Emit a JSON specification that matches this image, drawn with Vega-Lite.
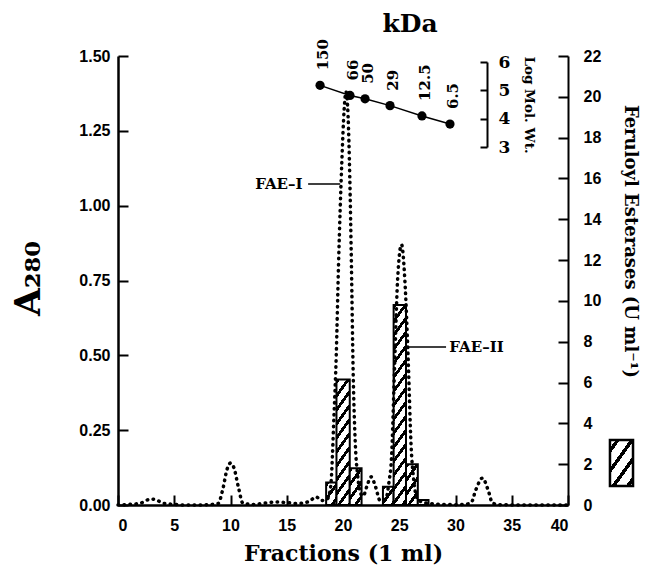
{
 "$schema": "https://vega.github.io/schema/vega-lite/v6.json",
 "width": 450, "height": 449,
 "autosize": {"type": "none"},
 "padding": {"left": 118, "top": 56, "right": 78, "bottom": 68},
 "background": "white",
 "view": {"stroke": null},
 "config": {"axis": {"grid": false, "domainColor": "black", "tickColor": "black", "labelColor": "black", "titleColor": "black", "labelFont": "Liberation Sans", "labelFontWeight": "bold", "labelFontSize": 16, "titleFont": "DejaVu Serif", "titleFontWeight": "bold", "domainWidth": 2.5, "tickWidth": 2}},
 "title": {"text": "kDa", "frame": "group", "anchor": "middle", "dx": 67, "offset": 2, "font": "DejaVu Serif", "fontSize": 25, "fontWeight": "bold", "color": "black"},
 "datasets": {
  "a280": [
   {"x":0,"a":0},{"x":1,"a":0.002},{"x":2,"a":0.006},{"x":2.5,"a":0.015},{"x":2.9,"a":0.02},{"x":3.4,"a":0.017},{"x":4,"a":0.006},{"x":5,"a":0.002},{"x":6,"a":0},{"x":7,"a":0},{"x":8,"a":0.001},{"x":8.9,"a":0.005},{"x":9.3,"a":0.05},{"x":9.7,"a":0.12},{"x":10.0,"a":0.14},{"x":10.3,"a":0.125},{"x":10.7,"a":0.06},{"x":11.1,"a":0.006},{"x":12,"a":0.002},{"x":13,"a":0.006},{"x":14,"a":0.01},{"x":15,"a":0.008},{"x":16,"a":0.005},{"x":17,"a":0.012},{"x":17.6,"a":0.027},{"x":18.1,"a":0.015},{"x":18.6,"a":0.02},{"x":18.9,"a":0.06},{"x":19.2,"a":0.3},{"x":19.4,"a":0.5},{"x":19.6,"a":0.8},{"x":19.9,"a":1.15},{"x":20.1,"a":1.32},{"x":20.27,"a":1.38},{"x":20.45,"a":1.3},{"x":20.6,"a":1.1},{"x":20.75,"a":0.8},{"x":20.9,"a":0.45},{"x":21.1,"a":0.2},{"x":21.3,"a":0.1},{"x":21.55,"a":0.04},{"x":21.8,"a":0.03},{"x":22.1,"a":0.06},{"x":22.5,"a":0.094},{"x":22.9,"a":0.06},{"x":23.3,"a":0.015},{"x":23.8,"a":0.02},{"x":24.1,"a":0.08},{"x":24.3,"a":0.15},{"x":24.6,"a":0.48},{"x":24.85,"a":0.75},{"x":25.2,"a":0.87},{"x":25.5,"a":0.75},{"x":25.8,"a":0.48},{"x":26.05,"a":0.2},{"x":26.3,"a":0.08},{"x":26.6,"a":0.02},{"x":27.2,"a":0.008},{"x":28,"a":0.004},{"x":29,"a":0.002},{"x":30,"a":0.001},{"x":31,"a":0.003},{"x":31.4,"a":0.008},{"x":31.8,"a":0.05},{"x":32.4,"a":0.09},{"x":32.9,"a":0.05},{"x":33.3,"a":0.006},{"x":34,"a":0.001},{"x":36,"a":0},{"x":38,"a":0},{"x":40,"a":0}
  ],
  "fae": [
   {"frac":19,"from":18.5,"to":19.42,"u":1.1},
   {"frac":20,"from":19.42,"to":20.6,"u":6.15},
   {"frac":21,"from":20.6,"to":21.65,"u":1.8},
   {"frac":24,"from":23.55,"to":24.5,"u":0.9},
   {"frac":25,"from":24.5,"to":25.6,"u":9.8},
   {"frac":26,"from":25.6,"to":26.65,"u":2.0},
   {"frac":27,"from":26.65,"to":27.6,"u":0.25}
  ],
  "mw": [
   {"x":17.96,"logmw":5.176,"kda":"150"},
   {"x":20.62,"logmw":4.82,"kda":"66"},
   {"x":21.96,"logmw":4.70,"kda":"50"},
   {"x":24.18,"logmw":4.46,"kda":"29"},
   {"x":27.02,"logmw":4.097,"kda":"12.5"},
   {"x":29.51,"logmw":3.81,"kda":"6.5"}
  ]
 },
 "layer": [
  {
   "data": {"name": "fae"},
   "layer": [
    {"transform":[{"filter":"datum.frac == 19"}],
     "mark":{"type":"rect","stroke":"black","strokeWidth":2,"fill":{"gradient":"linear","x1":0,"y1":0,"x2":0.749,"y2":1.162,"stops":[{"offset":0,"color":"#000"},{"offset":0.1326,"color":"#000"},{"offset":0.1326,"color":"#fff"},{"offset":0.379,"color":"#fff"},{"offset":0.379,"color":"#000"},{"offset":0.5115,"color":"#000"},{"offset":0.5115,"color":"#fff"},{"offset":0.758,"color":"#fff"},{"offset":0.758,"color":"#000"},{"offset":0.8906,"color":"#000"},{"offset":0.8906,"color":"#fff"},{"offset":1,"color":"#fff"}]}},
     "encoding":{"x":{"field":"from","type":"quantitative","scale":{"domain":[0,40],"nice":false},"title":"Fractions (1 ml)"},"x2":{"field":"to"},
      "y":{"field":"u","type":"quantitative","scale":{"domain":[0,22],"nice":false},"axis":{"orient":"right","values":[0,2,4,6,8,10,12,14,16,18,20,22],"tickSize":-10,"labelPadding":25,"domainWidth":2,"title":"Feruloyl Esterases (U ml⁻¹)","titleFontSize":18,"titleAngle":90,"titleX":61,"titleY":185,"titleBaseline":"middle","titleAlign":"center"}},
      "y2":{"datum":0}}},
    {"transform":[{"filter":"datum.frac == 20"}],
     "mark":{"type":"rect","stroke":"black","strokeWidth":2,"fill":{"gradient":"linear","x1":0,"y1":0,"x2":0.1666,"y2":1.1234,"stops":[{"offset":0,"color":"#000"},{"offset":0.034,"color":"#000"},{"offset":0.034,"color":"#fff"},{"offset":0.0972,"color":"#fff"},{"offset":0.0972,"color":"#000"},{"offset":0.1312,"color":"#000"},{"offset":0.1312,"color":"#fff"},{"offset":0.1943,"color":"#fff"},{"offset":0.1943,"color":"#000"},{"offset":0.2283,"color":"#000"},{"offset":0.2283,"color":"#fff"},{"offset":0.2915,"color":"#fff"},{"offset":0.2915,"color":"#000"},{"offset":0.3255,"color":"#000"},{"offset":0.3255,"color":"#fff"},{"offset":0.3886,"color":"#fff"},{"offset":0.3886,"color":"#000"},{"offset":0.4226,"color":"#000"},{"offset":0.4226,"color":"#fff"},{"offset":0.4858,"color":"#fff"},{"offset":0.4858,"color":"#000"},{"offset":0.5198,"color":"#000"},{"offset":0.5198,"color":"#fff"},{"offset":0.5829,"color":"#fff"},{"offset":0.5829,"color":"#000"},{"offset":0.6169,"color":"#000"},{"offset":0.6169,"color":"#fff"},{"offset":0.6801,"color":"#fff"},{"offset":0.6801,"color":"#000"},{"offset":0.7141,"color":"#000"},{"offset":0.7141,"color":"#fff"},{"offset":0.7772,"color":"#fff"},{"offset":0.7772,"color":"#000"},{"offset":0.8112,"color":"#000"},{"offset":0.8112,"color":"#fff"},{"offset":0.8744,"color":"#fff"},{"offset":0.8744,"color":"#000"},{"offset":0.9084,"color":"#000"},{"offset":0.9084,"color":"#fff"},{"offset":0.9715,"color":"#fff"},{"offset":0.9715,"color":"#000"},{"offset":1,"color":"#000"}]}},
     "encoding":{"x":{"field":"from","type":"quantitative","title":"Fractions (1 ml)"},"x2":{"field":"to"},"y":{"field":"u","type":"quantitative"},"y2":{"datum":0}}},
    {"transform":[{"filter":"datum.frac == 21"}],
     "mark":{"type":"rect","stroke":"black","strokeWidth":2,"fill":{"gradient":"linear","x1":0,"y1":0,"x2":0.5418,"y2":1.2059,"stops":[{"offset":0,"color":"#000"},{"offset":0.092,"color":"#000"},{"offset":0.092,"color":"#fff"},{"offset":0.2628,"color":"#fff"},{"offset":0.2628,"color":"#000"},{"offset":0.3548,"color":"#000"},{"offset":0.3548,"color":"#fff"},{"offset":0.5256,"color":"#fff"},{"offset":0.5256,"color":"#000"},{"offset":0.6176,"color":"#000"},{"offset":0.6176,"color":"#fff"},{"offset":0.7884,"color":"#fff"},{"offset":0.7884,"color":"#000"},{"offset":0.8804,"color":"#000"},{"offset":0.8804,"color":"#fff"},{"offset":1,"color":"#fff"}]}},
     "encoding":{"x":{"field":"from","type":"quantitative","title":"Fractions (1 ml)"},"x2":{"field":"to"},"y":{"field":"u","type":"quantitative"},"y2":{"datum":0}}},
    {"transform":[{"filter":"datum.frac == 24"}],
     "mark":{"type":"rect","stroke":"black","strokeWidth":2,"fill":{"gradient":"linear","x1":0,"y1":0,"x2":0.8888,"y2":1.0907,"stops":[{"offset":0,"color":"#000"},{"offset":0.147,"color":"#000"},{"offset":0.147,"color":"#fff"},{"offset":0.42,"color":"#fff"},{"offset":0.42,"color":"#000"},{"offset":0.567,"color":"#000"},{"offset":0.567,"color":"#fff"},{"offset":0.84,"color":"#fff"},{"offset":0.84,"color":"#000"},{"offset":0.987,"color":"#000"},{"offset":0.987,"color":"#fff"},{"offset":1,"color":"#fff"}]}},
     "encoding":{"x":{"field":"from","type":"quantitative","title":"Fractions (1 ml)"},"x2":{"field":"to"},"y":{"field":"u","type":"quantitative"},"y2":{"datum":0}}},
    {"transform":[{"filter":"datum.frac == 25"}],
     "mark":{"type":"rect","stroke":"black","strokeWidth":2,"fill":{"gradient":"linear","x1":0,"y1":0,"x2":0.0934,"y2":1.0785,"stops":[{"offset":0,"color":"#000"},{"offset":0.0226,"color":"#000"},{"offset":0.0226,"color":"#fff"},{"offset":0.0644,"color":"#fff"},{"offset":0.0644,"color":"#000"},{"offset":0.087,"color":"#000"},{"offset":0.087,"color":"#fff"},{"offset":0.1289,"color":"#fff"},{"offset":0.1289,"color":"#000"},{"offset":0.1514,"color":"#000"},{"offset":0.1514,"color":"#fff"},{"offset":0.1933,"color":"#fff"},{"offset":0.1933,"color":"#000"},{"offset":0.2158,"color":"#000"},{"offset":0.2158,"color":"#fff"},{"offset":0.2577,"color":"#fff"},{"offset":0.2577,"color":"#000"},{"offset":0.2803,"color":"#000"},{"offset":0.2803,"color":"#fff"},{"offset":0.3222,"color":"#fff"},{"offset":0.3222,"color":"#000"},{"offset":0.3447,"color":"#000"},{"offset":0.3447,"color":"#fff"},{"offset":0.3866,"color":"#fff"},{"offset":0.3866,"color":"#000"},{"offset":0.4091,"color":"#000"},{"offset":0.4091,"color":"#fff"},{"offset":0.451,"color":"#fff"},{"offset":0.451,"color":"#000"},{"offset":0.4736,"color":"#000"},{"offset":0.4736,"color":"#fff"},{"offset":0.5154,"color":"#fff"},{"offset":0.5154,"color":"#000"},{"offset":0.538,"color":"#000"},{"offset":0.538,"color":"#fff"},{"offset":0.5799,"color":"#fff"},{"offset":0.5799,"color":"#000"},{"offset":0.6024,"color":"#000"},{"offset":0.6024,"color":"#fff"},{"offset":0.6443,"color":"#fff"},{"offset":0.6443,"color":"#000"},{"offset":0.6669,"color":"#000"},{"offset":0.6669,"color":"#fff"},{"offset":0.7087,"color":"#fff"},{"offset":0.7087,"color":"#000"},{"offset":0.7313,"color":"#000"},{"offset":0.7313,"color":"#fff"},{"offset":0.7732,"color":"#fff"},{"offset":0.7732,"color":"#000"},{"offset":0.7957,"color":"#000"},{"offset":0.7957,"color":"#fff"},{"offset":0.8376,"color":"#fff"},{"offset":0.8376,"color":"#000"},{"offset":0.8601,"color":"#000"},{"offset":0.8601,"color":"#fff"},{"offset":0.902,"color":"#fff"},{"offset":0.902,"color":"#000"},{"offset":0.9246,"color":"#000"},{"offset":0.9246,"color":"#fff"},{"offset":0.9665,"color":"#fff"},{"offset":0.9665,"color":"#000"},{"offset":0.989,"color":"#000"},{"offset":0.989,"color":"#fff"},{"offset":1,"color":"#fff"}]}},
     "encoding":{"x":{"field":"from","type":"quantitative","title":"Fractions (1 ml)"},"x2":{"field":"to"},"y":{"field":"u","type":"quantitative"},"y2":{"datum":0}}},
    {"transform":[{"filter":"datum.frac == 26"}],
     "mark":{"type":"rect","stroke":"black","strokeWidth":2,"fill":{"gradient":"linear","x1":0,"y1":0,"x2":0.4891,"y2":1.2069,"stops":[{"offset":0,"color":"#000"},{"offset":0.0854,"color":"#000"},{"offset":0.0854,"color":"#fff"},{"offset":0.2441,"color":"#fff"},{"offset":0.2441,"color":"#000"},{"offset":0.3295,"color":"#000"},{"offset":0.3295,"color":"#fff"},{"offset":0.4882,"color":"#fff"},{"offset":0.4882,"color":"#000"},{"offset":0.5736,"color":"#000"},{"offset":0.5736,"color":"#fff"},{"offset":0.7323,"color":"#fff"},{"offset":0.7323,"color":"#000"},{"offset":0.8177,"color":"#000"},{"offset":0.8177,"color":"#fff"},{"offset":0.9764,"color":"#fff"},{"offset":0.9764,"color":"#000"},{"offset":1,"color":"#000"}]}},
     "encoding":{"x":{"field":"from","type":"quantitative","title":"Fractions (1 ml)"},"x2":{"field":"to"},"y":{"field":"u","type":"quantitative"},"y2":{"datum":0}}},
    {"transform":[{"filter":"datum.frac == 27"}],
     "mark":{"type":"rect","stroke":"black","strokeWidth":2,"fill":"white"},
     "encoding":{"x":{"field":"from","type":"quantitative","title":"Fractions (1 ml)"},"x2":{"field":"to"},"y":{"field":"u","type":"quantitative"},"y2":{"datum":0}}},
    {"data":{"values":[{"x0":43.73,"x1":45.78,"y0":0.93,"y1":3.18}]},
     "mark":{"type":"rect","stroke":"black","strokeWidth":2.5,"fill":{"gradient":"linear","x1":0,"y1":0,"x2":0.7987,"y2":1.1408,"stops":[{"offset":0,"color":"#fff"},{"offset":0.1,"color":"#fff"},{"offset":0.1,"color":"#000"},{"offset":0.177,"color":"#000"},{"offset":0.177,"color":"#fff"},{"offset":0.356,"color":"#fff"},{"offset":0.356,"color":"#000"},{"offset":0.433,"color":"#000"},{"offset":0.433,"color":"#fff"},{"offset":0.611,"color":"#fff"},{"offset":0.611,"color":"#000"},{"offset":0.688,"color":"#000"},{"offset":0.688,"color":"#fff"},{"offset":0.867,"color":"#fff"},{"offset":0.867,"color":"#000"},{"offset":0.944,"color":"#000"},{"offset":0.944,"color":"#fff"},{"offset":1,"color":"#fff"}]}},
     "encoding":{"x":{"field":"x0","type":"quantitative","title":"Fractions (1 ml)"},"x2":{"field":"x1"},"y":{"field":"y0","type":"quantitative"},"y2":{"field":"y1"}}}
   ]
  },
  {
   "layer": [
    {"data":{"name":"a280"},
     "mark":{"type":"line","interpolate":"monotone","color":"black","strokeWidth":3.5,"strokeDash":[0.5,5.5],"strokeCap":"round"},
     "encoding":{"x":{"field":"x","type":"quantitative","scale":{"domain":[0,40],"nice":false},"title":"Fractions (1 ml)","axis":{"values":[0,5,10,15,20,25,30,35,40],"tickSize":-10,"labelPadding":22,"titleFontSize":22,"titleY":48,"titleBaseline":"middle"}},
      "y":{"field":"a","type":"quantitative","scale":{"domain":[0,1.5],"nice":false},"axis":{"orient":"left","values":[0,0.25,0.5,0.75,1,1.25,1.5],"format":".2f","tickSize":-10,"labelPadding":18,"title":"A₂₈₀","titleFontSize":36,"titleAngle":-90,"titleX":-90,"titleY":222,"titleBaseline":"middle","titleAlign":"center"}}}},
    {"data":{"values":[{"x1":16.9,"x2":19.75,"y":1.072},{"x1":25.69,"x2":29.16,"y":0.528}]},
     "mark":{"type":"rule","color":"black","strokeWidth":1.5},
     "encoding":{"x":{"field":"x1","type":"quantitative","title":"Fractions (1 ml)"},"x2":{"field":"x2"},"y":{"field":"y","type":"quantitative"}}},
    {"data":{"values":[{"x":16.4,"y":1.072,"label":"FAE–I"}]},
     "mark":{"type":"text","align":"right","baseline":"middle","font":"DejaVu Serif","fontWeight":"bold","fontSize":15,"color":"black"},
     "encoding":{"x":{"field":"x","type":"quantitative","title":"Fractions (1 ml)"},"y":{"field":"y","type":"quantitative"},"text":{"field":"label"}}},
    {"data":{"values":[{"x":29.45,"y":0.528,"label":"FAE–II"}]},
     "mark":{"type":"text","align":"left","baseline":"middle","font":"DejaVu Serif","fontWeight":"bold","fontSize":15,"color":"black"},
     "encoding":{"x":{"field":"x","type":"quantitative","title":"Fractions (1 ml)"},"y":{"field":"y","type":"quantitative"},"text":{"field":"label"}}}
   ]
  },
  {
   "data": {"name": "mw"},
   "layer": [
    {"mark":{"type":"line","color":"black","strokeWidth":1.5},
     "encoding":{"x":{"field":"x","type":"quantitative","title":"Fractions (1 ml)"},
      "y":{"field":"logmw","type":"quantitative","scale":{"domain":[3,6],"range":[91,6],"nice":false},"axis":{"orient":"right","offset":-81,"values":[3,4,5,6],"format":"d","tickSize":-7,"labelPadding":18,"labelFont":"DejaVu Serif","labelFontSize":17,"domainWidth":2,"title":"Log Mol. Wt.","titleFontSize":13.5,"titleAngle":90,"titleX":41,"titleY":48.5,"titleBaseline":"middle","titleAlign":"center"}}}},
    {"mark":{"type":"point","filled":true,"color":"black","size":85,"opacity":1},
     "encoding":{"x":{"field":"x","type":"quantitative","title":"Fractions (1 ml)"},"y":{"field":"logmw","type":"quantitative"}}},
    {"mark":{"type":"text","angle":-90,"align":"left","baseline":"middle","dx":15,"dy":3,"font":"DejaVu Serif","fontWeight":"bold","fontSize":15,"color":"black"},
     "encoding":{"x":{"field":"x","type":"quantitative","title":"Fractions (1 ml)"},"y":{"field":"logmw","type":"quantitative"},"text":{"field":"kda"}}}
   ]
  }
 ],
 "resolve": {"scale": {"y": "independent"}, "axis": {"y": "independent"}}
}
